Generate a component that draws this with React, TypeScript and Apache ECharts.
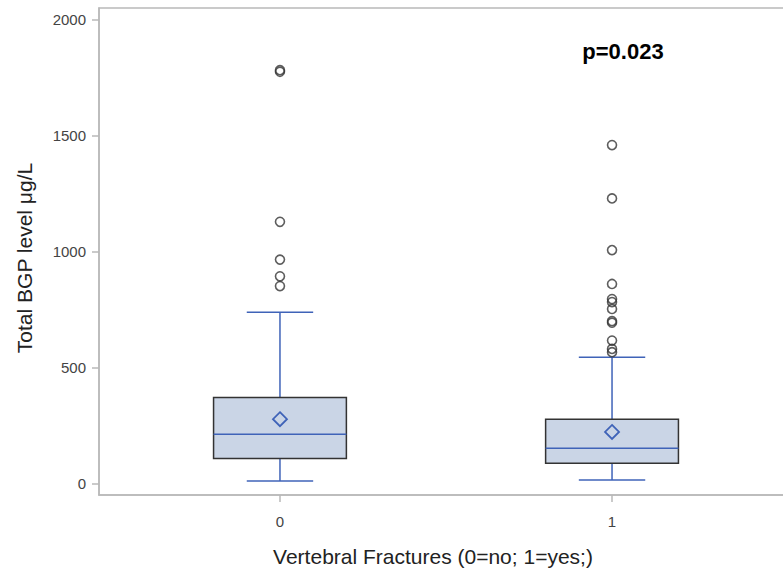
import React, { useEffect, useRef } from "react";
import * as echarts from "echarts";

// Group positions on the x axis (0 = no fracture, 1 = fracture)
const groups = [0, 1];
const groupLabels = ["0", "1"];
// Box plot statistics (µg/L)
const lowerWhisker = [10, 15];
const q1 = [107, 87];
const median = [212, 152];
const q3 = [370, 277];
const upperWhisker = [738, 544];
const means = [277, 222];
// Outliers
const outliers0 = [1775, 1782, 1128, 965, 893, 851];
const outliers1 = [1459, 1229, 1006, 860, 795, 782, 752, 700, 693, 616, 580, 566];
// Axis ticks
const yTicks = [0, 500, 1000, 1500, 2000];

const yTitle = "Total BGP level \u03bcg/L";
const xTitle = "Vertebral Fractures (0=no; 1=yes;)";
const pText = "p=0.023";

const BLUE = "#3f63b8";
const FRAME = "#b9b9b9";

export default function App() {
  const ref = useRef<HTMLDivElement>(null);
  useEffect(() => {
    if (!ref.current) return;
    const chart = echarts.init(ref.current, null, { renderer: "svg" });
    const boxData = groups.map((g, i) => [g, lowerWhisker[i], q1[i], median[i], q3[i], upperWhisker[i], means[i]]);
    const outlierData: number[][] = [];
    outliers0.forEach((v) => outlierData.push([groups[0], v]));
    outliers1.forEach((v) => outlierData.push([groups[1], v]));

    chart.setOption({
      animation: false,
      backgroundColor: "#ffffff",
      grid: { left: 99, top: 8, bottom: 79, right: 0, show: true, borderColor: FRAME, borderWidth: 1.5, containLabel: false },
      xAxis: {
        type: "value",
        min: -0.545,
        max: 1.545,
        splitLine: { show: false },
        axisLine: { show: true, onZero: false, lineStyle: { color: FRAME, width: 1.5 } },
        axisTick: { show: true, length: 7, customValues: groups, lineStyle: { color: FRAME, width: 1.5 } },
        axisLabel: {
          customValues: groups,
          formatter: (v: number) => groupLabels[groups.indexOf(Math.round(v))] ?? "",
          color: "#444",
          fontSize: 15,
          fontFamily: "Liberation Sans",
          margin: 19,
        },
      },
      yAxis: {
        type: "value",
        min: -50,
        max: 2050,
        splitLine: { show: false },
        axisLine: { show: true, onZero: false, lineStyle: { color: FRAME, width: 1.5 } },
        axisTick: { show: true, length: 7, customValues: yTicks, lineStyle: { color: FRAME, width: 1.5 } },
        axisLabel: {
          customValues: yTicks,
          formatter: (v: number) => String(v),
          color: "#444",
          fontSize: 15,
          fontFamily: "Liberation Sans",
          margin: 13,
        },
      },
      series: [
        {
          type: "custom",
          data: boxData,
          encode: { x: 0, y: [1, 2, 3, 4, 5, 6] },
          renderItem: (params: any, api: any) => {
            const x = api.value(0);
            const pLow = api.coord([x, api.value(1)]);
            const pQ1 = api.coord([x, api.value(2)]);
            const pMed = api.coord([x, api.value(3)]);
            const pQ3 = api.coord([x, api.value(4)]);
            const pHigh = api.coord([x, api.value(5)]);
            const pMean = api.coord([x, api.value(6)]);
            const cx = pMed[0];
            const hb = api.size([0.4, 0])[0] / 2;
            const hc = hb / 2;
            const d = 7;
            const lineStyle = { stroke: BLUE, lineWidth: 1.5 };
            return {
              type: "group",
              children: [
                { type: "line", shape: { x1: cx, y1: pLow[1], x2: cx, y2: pQ1[1] }, style: lineStyle },
                { type: "line", shape: { x1: cx, y1: pQ3[1], x2: cx, y2: pHigh[1] }, style: lineStyle },
                { type: "line", shape: { x1: cx - hc, y1: pLow[1], x2: cx + hc, y2: pLow[1] }, style: lineStyle },
                { type: "line", shape: { x1: cx - hc, y1: pHigh[1], x2: cx + hc, y2: pHigh[1] }, style: lineStyle },
                {
                  type: "rect",
                  shape: { x: cx - hb, y: pQ3[1], width: hb * 2, height: pQ1[1] - pQ3[1] },
                  style: { fill: "#cad5e6", stroke: "#333333", lineWidth: 1.5 },
                },
                { type: "line", shape: { x1: cx - hb, y1: pMed[1], x2: cx + hb, y2: pMed[1] }, style: lineStyle },
                {
                  type: "polygon",
                  shape: {
                    points: [
                      [pMean[0], pMean[1] - d],
                      [pMean[0] + d, pMean[1]],
                      [pMean[0], pMean[1] + d],
                      [pMean[0] - d, pMean[1]],
                    ],
                  },
                  style: { fill: "none", stroke: BLUE, lineWidth: 1.8 },
                },
              ],
            };
          },
        },
        {
          type: "scatter",
          data: outlierData,
          symbol: "circle",
          symbolSize: 9,
          itemStyle: { color: "rgba(255,255,255,0)", borderColor: "#333333", borderWidth: 1.6 },
        },
      ],
      graphic: [
        {
          type: "text",
          x: 24,
          y: 258,
          rotation: Math.PI / 2,
          style: { text: yTitle, fontSize: 21, fontFamily: "Liberation Sans", fill: "#222", align: "center", verticalAlign: "middle" },
        },
        {
          type: "text",
          x: 433,
          y: 556,
          style: { text: xTitle, fontSize: 21, fontFamily: "Liberation Sans", fill: "#222", align: "center", verticalAlign: "middle" },
        },
        {
          type: "text",
          x: 623,
          y: 51,
          style: { text: pText, fontSize: 22, fontWeight: "bold", fontFamily: "Liberation Sans", fill: "#000", align: "center", verticalAlign: "middle" },
        },
      ],
    });
    return () => chart.dispose();
  }, []);
  return (
    <div style={{ position: "fixed", left: 0, top: 0, width: 783, height: 574, overflow: "hidden" }}>
      <div ref={ref} style={{ position: "absolute", left: 0, top: 0, width: 793, height: 574 }} />
    </div>
  );
}
